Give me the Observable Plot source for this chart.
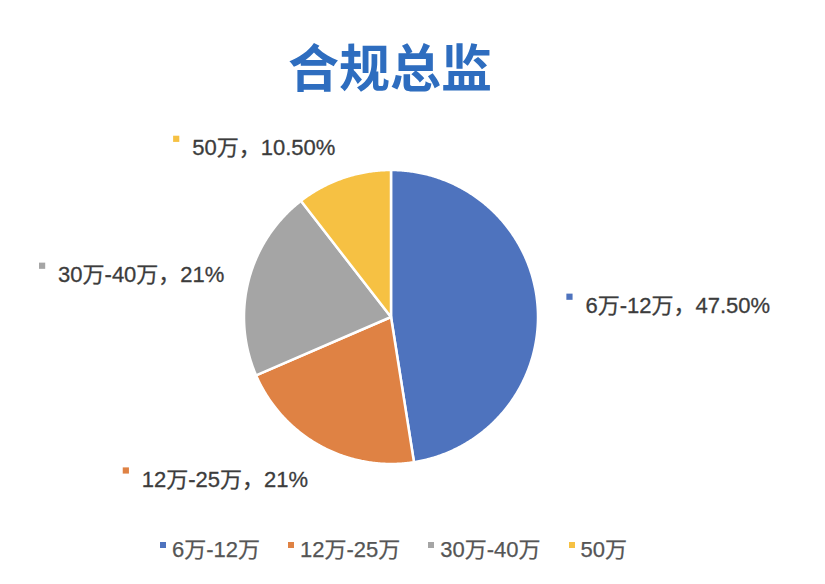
<!DOCTYPE html>
<html>
<head>
<meta charset="utf-8">
<script src="https://cdn.jsdelivr.net/npm/d3@7"></script>
<script src="https://cdn.jsdelivr.net/npm/@observablehq/plot@0.6"></script>
<style>
  body { margin: 0; background: #fff; width: 825px; height: 584px; overflow: hidden; }
  #title { position: relative; height: 115px; }
  #title span { position: absolute; left: 390px; top: 40px; transform: translateX(-50%);
    font: bold 51px/51px "Noto Sans CJK SC", sans-serif; color: #2E6DBF; white-space: nowrap; }
  #chart { height: 400px; }
  #legend { height: 63px; padding-bottom: 6px; display: flex; justify-content: center; align-items: center;
    padding-right: 38px; font: 22px "Liberation Sans", "Noto Sans CJK SC", sans-serif; color: #555;
    -webkit-text-stroke: 0.25px #555; }
  .item { display: flex; align-items: center; margin: 0 14px; }
  .sw { width: 6px; height: 6px; margin-right: 6px; position: relative; top: -2px; }
</style>
</head>
<body>
<div id="title"><span>合规总监</span></div>
<div id="chart"></div>
<div id="legend"></div>
<script>
// ---- data ----
const categories = ["6万-12万", "12万-25万", "30万-40万", "50万"];
const shares = [47.5, 21, 21, 10.5];
const shareLabels = ["47.50%", "21%", "21%", "10.50%"];
const colors = ["#4E73BE", "#DF8244", "#A5A5A5", "#F6C143"];

// ---- layout constants ----
const W = 825, H = 400;
const R = 147;          // pie radius (px)
const LABEL_GAP = 25;   // distance of label anchor beyond the rim
const FONT = "'Liberation Sans', 'Noto Sans CJK SC', sans-serif";
const FS = 22;

const arcs = d3.pie().sort(null).value(d => d)(shares);

// slice polygons
const pts = [];
arcs.forEach((a, i) => {
  const key = categories[i];
  pts.push({key, x: 0, y: 0});
  const n = Math.max(2, Math.ceil((a.endAngle - a.startAngle) / (Math.PI / 360)));
  for (let k = 0; k <= n; k++) {
    const t = a.startAngle + (a.endAngle - a.startAngle) * k / n;
    pts.push({key, x: R * Math.sin(t), y: R * Math.cos(t)});
  }
});

// label placement
const ctx = document.createElement("canvas").getContext("2d");
ctx.font = `${FS}px ${FONT}`;
const labels = arcs.map((a, i) => {
  const mid = (a.startAngle + a.endAngle) / 2;
  const dx = Math.sin(mid), dy = Math.cos(mid);
  const px = (R + LABEL_GAP) * dx, py = (R + LABEL_GAP) * dy;
  const text = `${categories[i]}，${shareLabels[i]}`;
  const w = ctx.measureText(text).width;
  const right = dx > 0;
  const ty = py + 10 * dy - 3.5;
  const tx = right ? px + 23 : px;
  const mx = right ? tx - 16 : tx - w - 16;
  return {key: categories[i], text, tx, ty, mx, my: ty + 9.5, right};
});

const textStyle = {fontFamily: FONT, fontSize: FS, fill: "#3c3c3c", stroke: "#3c3c3c", strokeWidth: 0.3};

const chart = Plot.plot({
  width: W, height: H, margin: 0,
  x: {domain: [-390.5, W - 390.5], axis: null},
  y: {domain: [-(H - 201.5), 201.5], axis: null},
  color: {domain: categories, range: colors},
  style: {background: "#fff"},
  marks: [
    Plot.line(pts, {x: "x", y: "y", z: "key", fill: "key", stroke: "#fff", strokeWidth: 2.5,
      strokeLinejoin: "round", curve: "linear-closed"}),
    Plot.dot(labels, {x: "mx", y: "my", fill: "key", symbol: "square", r: 3.5}),
    Plot.text(labels.filter(d => d.right), {x: "tx", y: "ty", text: "text", textAnchor: "start", ...textStyle}),
    Plot.text(labels.filter(d => !d.right), {x: "tx", y: "ty", text: "text", textAnchor: "end", ...textStyle})
  ]
});
document.getElementById("chart").appendChild(chart);

// legend
const legend = document.getElementById("legend");
categories.forEach((c, i) => {
  const item = document.createElement("div");
  item.className = "item";
  const sw = document.createElement("span");
  sw.className = "sw";
  sw.style.background = colors[i];
  const t = document.createElement("span");
  t.textContent = c;
  item.appendChild(sw); item.appendChild(t);
  legend.appendChild(item);
});
</script>
</body>
</html>
